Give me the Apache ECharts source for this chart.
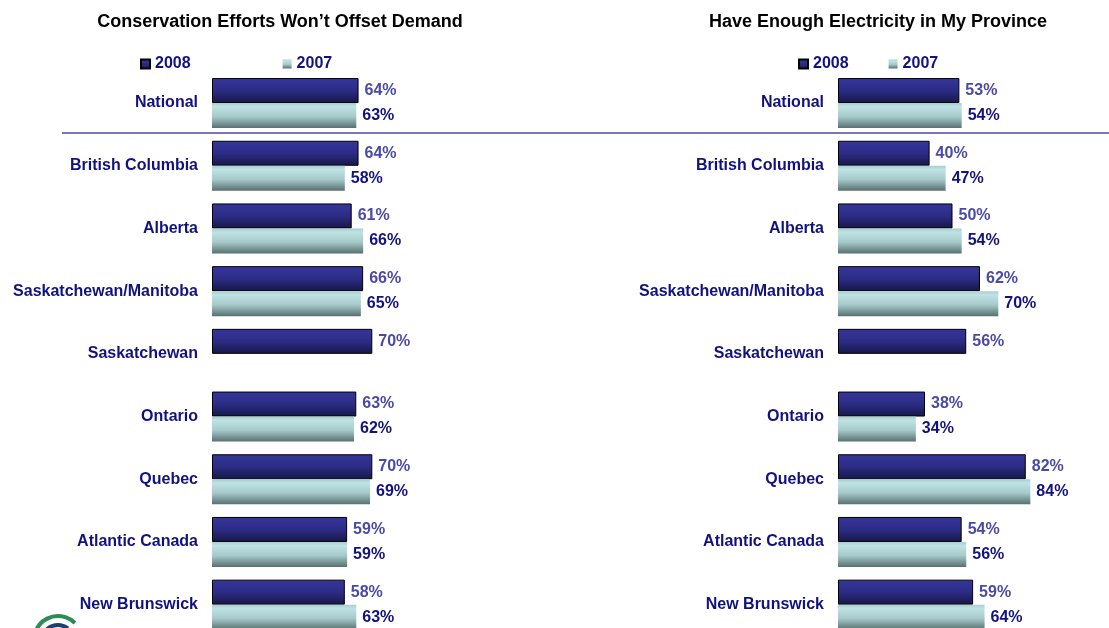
<!DOCTYPE html>
<html>
<head>
<meta charset="utf-8">
<script src="https://cdn.jsdelivr.net/npm/echarts@6/dist/echarts.min.js"></script>
<style>
  html, body { margin: 0; padding: 0; background: #fff; overflow: hidden; }
  /* 图表底部超出窗口，与原图一样被截断 */
  #chart { width: 1109px; height: 640px; }
</style>
</head>
<body>
<div id="chart"></div>
<script>
// 数据
var categories = ['National', 'British Columbia', 'Alberta', 'Saskatchewan/Manitoba', 'Saskatchewan',
    'Ontario', 'Quebec', 'Atlantic Canada', 'New Brunswick'];
var seriesNames = ['2008', '2007'];
var offset2008 = [64, 64, 61, 66, 70, 63, 70, 59, 58];
var offset2007 = [63, 58, 66, 65, null, 62, 69, 59, 63];
var enough2008 = [53, 40, 50, 62, 56, 38, 82, 54, 59];
var enough2007 = [54, 47, 54, 70, null, 34, 84, 56, 64];

var font = 'Arial, "Liberation Sans", sans-serif';
var navy = '#12127e';

var color2008 = new echarts.graphic.LinearGradient(0, 0, 0, 1, [
    { offset: 0, color: '#36369c' },
    { offset: 0.5, color: '#2c2c86' },
    { offset: 1, color: '#171748' }
]);
var color2007 = new echarts.graphic.LinearGradient(0, 0, 0, 1, [
    { offset: 0, color: '#a8cdce' },
    { offset: 0.15, color: '#bfe3e4' },
    { offset: 0.55, color: '#a6c9ca' },
    { offset: 1, color: '#587070' }
]);

function makeBar(name, data, xi, yi) {
    var is2008 = name == '2008';
    return {
        name: name,
        type: 'bar',
        xAxisIndex: xi,
        yAxisIndex: yi,
        data: data,
        barWidth: 25,
        barGap: '0%',
        itemStyle: {
            color: is2008 ? color2008 : color2007,
            borderColor: is2008 ? '#000' : 'transparent',
            borderWidth: is2008 ? 1 : 0
        },
        label: {
            show: true,
            position: 'right',
            distance: 6,
            formatter: '{c}%',
            fontFamily: font,
            fontWeight: 'bold',
            fontSize: 16,
            color: is2008 ? '#4a4aa6' : navy
        }
    };
}

function catAxis(gi) {
    return {
        type: 'category',
        gridIndex: gi,
        data: categories,
        inverse: true,
        axisLine: { show: false },
        axisTick: { show: false },
        axisLabel: {
            margin: 14,
            fontFamily: font,
            fontWeight: 'bold',
            fontSize: 16,
            color: navy
        }
    };
}

function valAxis(gi) {
    return {
        type: 'value',
        gridIndex: gi,
        min: 0,
        max: 100,
        show: false,
        splitLine: { show: false }
    };
}

var chart = echarts.init(document.getElementById('chart'));

var titleStyle = { fontFamily: font, fontWeight: 'bold', fontSize: 18, color: '#000' };
var legendText = { fontFamily: font, fontWeight: 'bold', fontSize: 16, color: navy };

var option = {
    animation: false,
    title: [
        { text: 'Conservation Efforts Won\u2019t Offset Demand', left: 275, top: 8, textAlign: 'center', textStyle: titleStyle },
        { text: 'Have Enough Electricity in My Province', left: 873, top: 8, textAlign: 'center', textStyle: titleStyle }
    ],
    legend: [
        {
            data: seriesNames,
            icon: 'rect',
            left: 140, top: 56, padding: 0,
            itemWidth: 9, itemHeight: 9, itemGap: 92,
            textStyle: legendText
        },
        {
            data: seriesNames,
            icon: 'rect',
            left: 798, top: 56, padding: 0,
            itemWidth: 9, itemHeight: 9, itemGap: 40,
            textStyle: legendText
        }
    ],
    grid: [
        { left: 212, width: 229, top: 71.7, height: 564.3 },
        { left: 838, width: 229, top: 71.7, height: 564.3 }
    ],
    xAxis: [valAxis(0), valAxis(1)],
    yAxis: [catAxis(0), catAxis(1)],
    series: [
        makeBar('2008', offset2008, 0, 0),
        makeBar('2007', offset2007, 0, 0),
        makeBar('2008', enough2008, 1, 1),
        makeBar('2007', enough2007, 1, 1)
    ],
    graphic: [
        // 分隔线
        {
            type: 'line',
            shape: { x1: 62, y1: 133, x2: 1109, y2: 133 },
            style: { stroke: '#7676c4', lineWidth: 2 }
        },
        // 左下角标志（部分）
        {
            type: 'arc',
            shape: { cx: 58, cy: 640, r: 24, startAngle: Math.PI * 1.1, endAngle: Math.PI * 1.75 },
            style: { stroke: '#2e8b57', lineWidth: 4, fill: null }
        },
        {
            type: 'arc',
            shape: { cx: 58, cy: 642, r: 17, startAngle: Math.PI * 1.05, endAngle: Math.PI * 1.7 },
            style: { stroke: '#1d3f6e', lineWidth: 4, fill: null }
        },
        {
            type: 'arc',
            shape: { cx: 58, cy: 643, r: 10, startAngle: Math.PI * 1.05, endAngle: Math.PI * 1.7 },
            style: { stroke: '#2e8b57', lineWidth: 3, fill: null }
        }
    ]
};

chart.setOption(option);
</script>
</body>
</html>
